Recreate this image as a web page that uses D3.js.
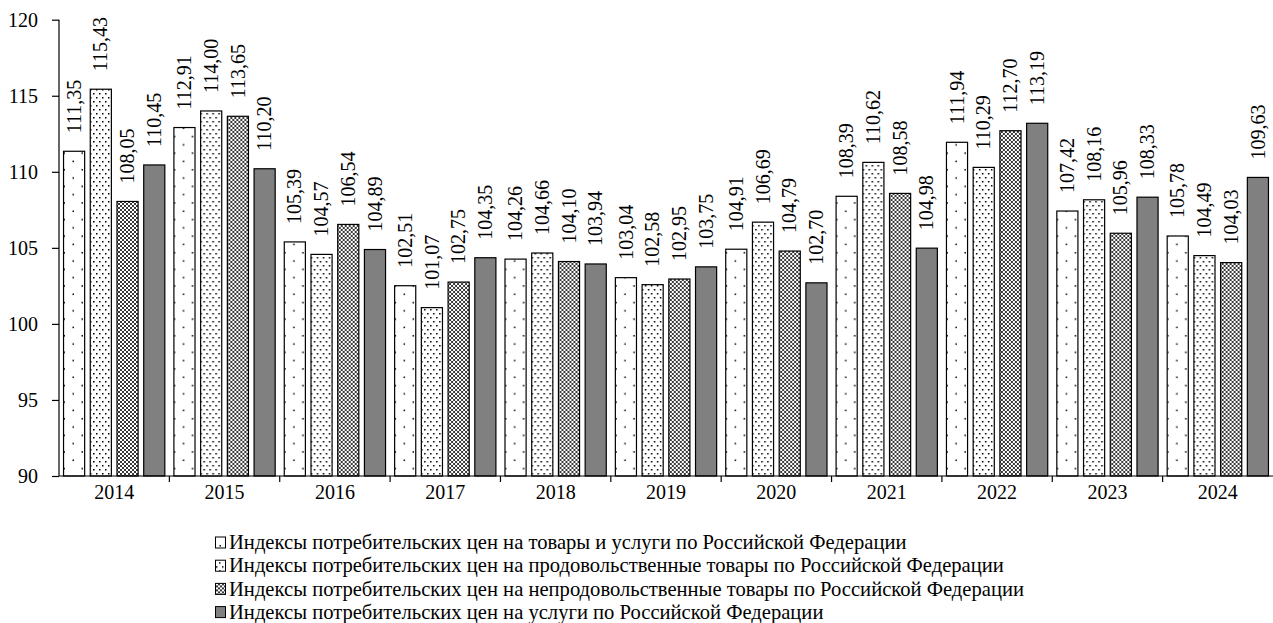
<!DOCTYPE html>
<html>
<head>
<meta charset="utf-8">
<script src="https://cdn.jsdelivr.net/npm/d3@7"></script>
<style>
  body { margin: 0; background: #fff; }
  svg text { font-family: "Liberation Serif", Tinos, "Times New Roman", serif !important; }
</style>
</head>
<body>
<div id="chart"></div>
<script>
var years = ["2014","2015","2016","2017","2018","2019","2020","2021","2022","2023","2024"];
var allGoods = [111.35,112.91,105.39,102.51,104.26,103.04,104.91,108.39,111.94,107.42,105.78];
var foodGoods = [115.43,114.00,104.57,101.07,104.66,102.58,106.69,110.62,110.29,108.16,104.49];
var nonFoodGoods = [108.05,113.65,106.54,102.75,104.10,102.95,104.79,108.58,112.70,105.96,104.03];
var services = [110.45,110.20,104.89,104.35,103.94,103.75,102.70,104.98,113.19,108.33,109.63];
var seriesNames = [
  "Индексы потребительских цен на товары и услуги по Российской Федерации",
  "Индексы потребительских цен на продовольственные товары по Российской Федерации",
  "Индексы потребительских цен на непродовольственные товары по Российской Федерации",
  "Индексы потребительских цен на услуги по Российской Федерации"
];
var yTicks = [90,95,100,105,110,115,120];

var series = [allGoods, foodGoods, nonFoodGoods, services];
var fills = ["url(#p0)", "url(#p1)", "url(#p2)", "#808080"];
var fontName = "Liberation Serif";

var width = 1273,
    height = 623;
var margin = {left: 59, right: 0, top: 19.7, bottom: 147};

var svg = d3.select("#chart").append("svg")
    .attr("width", width)
    .attr("height", height);

var defs = svg.append("defs");
// sparse dots
var p0 = defs.append("pattern").attr("id", "p0").attr("patternUnits", "userSpaceOnUse")
    .attr("width", 18).attr("height", 16.6);
p0.append("rect").attr("width", 18).attr("height", 16.6).attr("fill", "#fff");
p0.append("rect").attr("x", 4.5).attr("y", 3).attr("width", 1.5).attr("height", 1.5).attr("fill", "#000");
p0.append("rect").attr("x", 13.5).attr("y", 11.3).attr("width", 1.5).attr("height", 1.5).attr("fill", "#000");
// dense dots
var p1 = defs.append("pattern").attr("id", "p1").attr("patternUnits", "userSpaceOnUse")
    .attr("width", 6).attr("height", 8);
p1.append("rect").attr("width", 6).attr("height", 8).attr("fill", "#fff");
p1.append("rect").attr("x", 1).attr("y", 1).attr("width", 1.5).attr("height", 1.5).attr("fill", "#000");
p1.append("rect").attr("x", 4).attr("y", 5).attr("width", 1.5).attr("height", 1.5).attr("fill", "#000");
// cross mesh
var p2 = defs.append("pattern").attr("id", "p2").attr("patternUnits", "userSpaceOnUse")
    .attr("width", 4).attr("height", 4);
p2.append("rect").attr("width", 4).attr("height", 4).attr("fill", "#fff");
p2.append("path").attr("d", "M0,0L4,4M4,0L0,4").attr("stroke", "#222").attr("stroke-width", 0.9);

var x = d3.scaleBand()
    .domain(years)
    .range([margin.left, width - margin.right]);

var xInner = d3.scaleBand()
    .domain(d3.range(4))
    .range([0, x.bandwidth()])
    .paddingInner(0.21)
    .paddingOuter(0.17);

var y = d3.scaleLinear()
    .domain([90, 120])
    .range([height - margin.bottom, margin.top]);

// bars
var groups = svg.append("g").selectAll("g")
    .data(years)
    .enter().append("g")
    .attr("transform", function(d) { return "translate(" + x(d) + ",0)"; });

groups.each(function(year, i) {
  var g = d3.select(this);
  series.forEach(function(s, k) {
    var v = s[i];
    g.append("rect")
        .attr("x", xInner(k))
        .attr("y", y(v))
        .attr("width", xInner.bandwidth())
        .attr("height", y(90) - y(v))
        .attr("fill", fills[k])
        .attr("stroke", "#000")
        .attr("stroke-width", 1.2);
    var cx = xInner(k) + xInner.bandwidth() / 2;
    g.append("text")
        .attr("transform", "translate(" + cx + "," + (y(v) - 18) + ") rotate(-90)")
        .attr("dy", "0.33em")
        .attr("font-size", 20)
        .attr("font-family", fontName)
        .style("font-family", fontName)
        .text(v.toFixed(2).replace(".", ","));
  });
});

// y axis
var yAxis = svg.append("g")
    .attr("transform", "translate(" + margin.left + ",0)")
    .call(d3.axisLeft(y).tickValues(yTicks).tickSize(7).tickPadding(14));
yAxis.attr("font-family", fontName);
yAxis.selectAll("text").attr("font-size", 20).style("font-family", fontName);
yAxis.selectAll("line, path").attr("stroke-width", 1.2);
yAxis.select(".domain").attr("d", "M0," + y(120) + "V" + y(90));

// x axis
var xg = svg.append("g")
    .attr("transform", "translate(0," + y(90) + ")");
xg.append("line")
    .attr("x1", margin.left).attr("x2", width - margin.right)
    .attr("stroke", "#000").attr("stroke-width", 1.2);
xg.selectAll(".tk")
    .data(years.slice(1))
    .enter().append("line")
    .attr("x1", function(d) { return x(d); })
    .attr("x2", function(d) { return x(d); })
    .attr("y1", 0).attr("y2", 6)
    .attr("stroke", "#000").attr("stroke-width", 1.2);
xg.selectAll(".lbl")
    .data(years)
    .enter().append("text")
    .attr("x", function(d) { return x(d) + x.bandwidth() / 2; })
    .attr("y", 23)
    .attr("text-anchor", "middle")
    .attr("font-size", 20)
    .style("font-family", fontName)
    .text(function(d) { return d; });

// legend
var legend = svg.append("g").attr("transform", "translate(215,542)");
seriesNames.forEach(function(name, k) {
  var row = legend.append("g").attr("transform", "translate(0," + (k * 23.2) + ")");
  row.append("rect")
      .attr("x", 0.5).attr("y", -5)
      .attr("width", 10).attr("height", 11)
      .attr("fill", fills[k])
      .attr("stroke", "#000");
  row.append("text")
      .attr("x", 14)
      .attr("dy", "0.35em")
      .attr("font-size", 20.6)
      .style("font-family", fontName)
      .text(name);
});
</script>
</body>
</html>
